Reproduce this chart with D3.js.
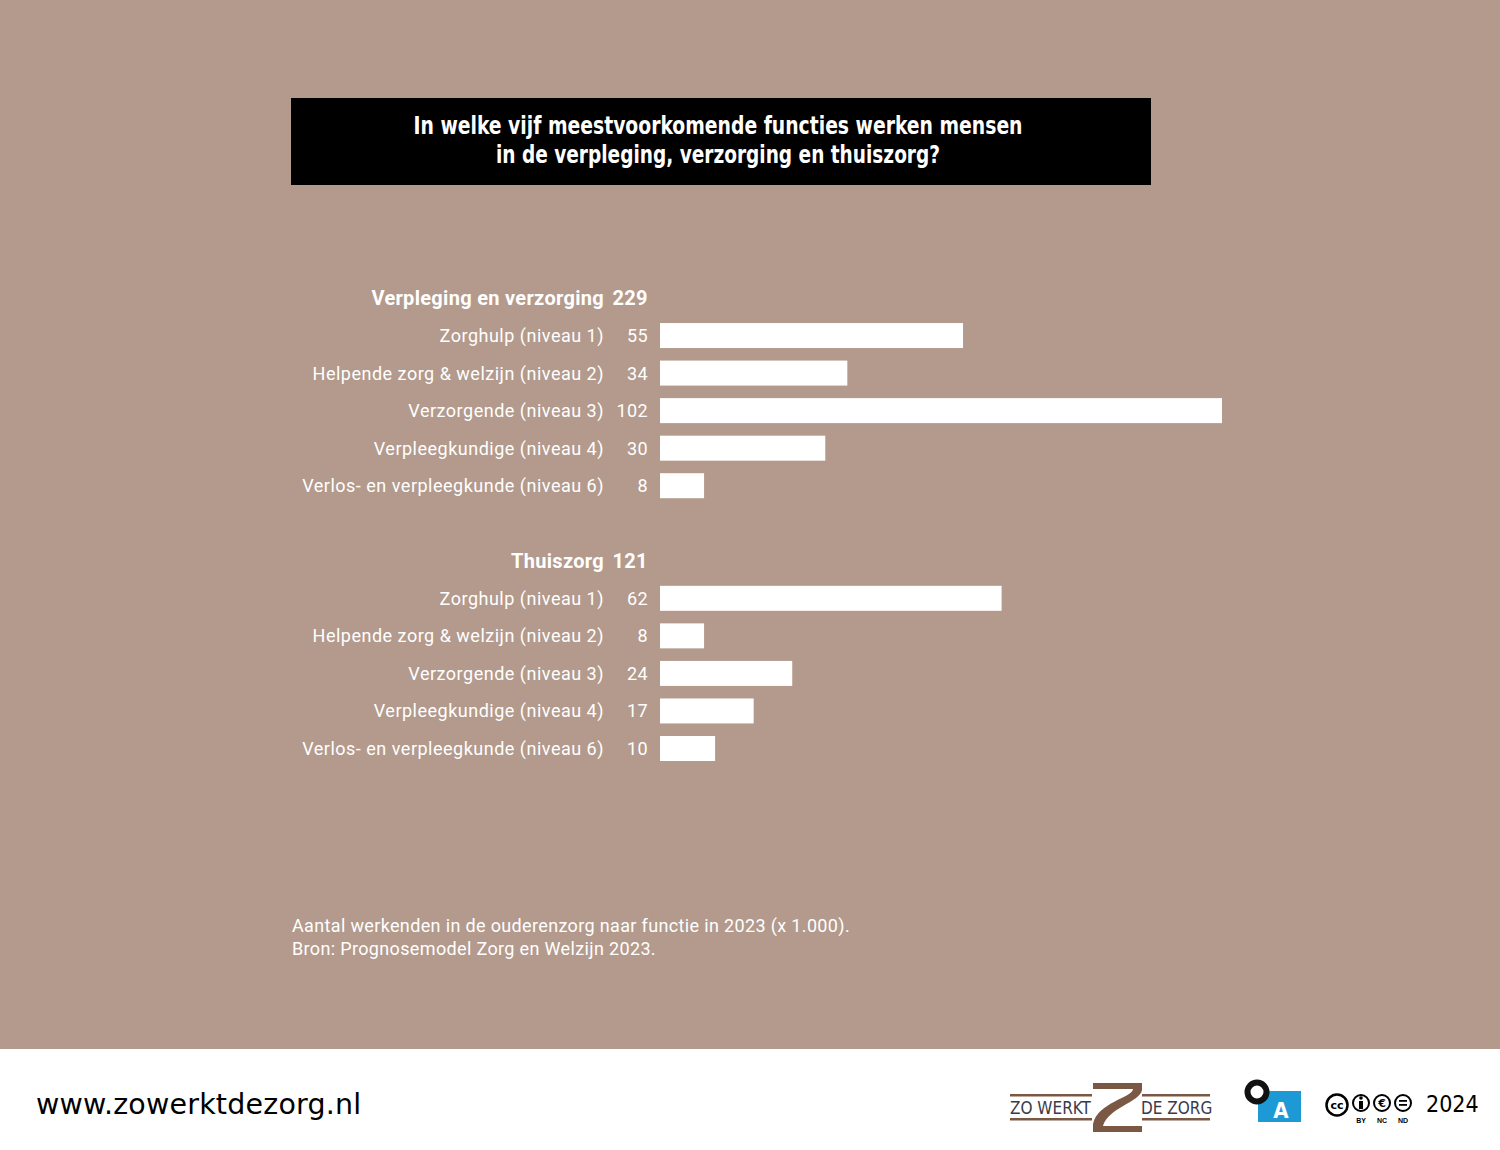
<!DOCTYPE html>
<meta charset="utf-8">
<body style="margin:0">
<script src="https://d3js.org/d3.v7.min.js"></script>
<script>
var groups = ["Verpleging en verzorging", "Thuiszorg"];
var groupTotals = [229, 121];
var functies = ["Zorghulp (niveau 1)", "Helpende zorg & welzijn (niveau 2)", "Verzorgende (niveau 3)",
                "Verpleegkundige (niveau 4)", "Verlos- en verpleegkunde (niveau 6)"];
var verplegingValues = [55, 34, 102, 30, 8];
var thuiszorgValues = [62, 8, 24, 17, 10];
var titleLines = ["In welke vijf meestvoorkomende functies werken mensen",
                  "in de verpleging, verzorging en thuiszorg?"];
var noteLines = ["Aantal werkenden in de ouderenzorg naar functie in 2023 (x 1.000).",
                 "Bron: Prognosemodel Zorg en Welzijn 2023."];

var width = 1500,
    height = 1150;

var svg = d3.select("body").append("svg")
    .attr("width", width)
    .attr("height", height)
    .style("display", "block");

svg.append("rect").attr("width", width).attr("height", 1049).attr("fill", "#b39a8c");
svg.append("rect").attr("y", 1049).attr("width", width).attr("height", height - 1049).attr("fill", "#ffffff");

// title box
svg.append("rect").attr("x", 291).attr("y", 98).attr("width", 860).attr("height", 87).attr("fill", "#000");
var titleWidths = [609, 444];
svg.selectAll(".title").data(titleLines).enter().append("text")
    .attr("x", 718)
    .attr("y", function(d, i) { return 134 + i * 29; })
    .attr("text-anchor", "middle")
    .attr("fill", "#fff")
    .style("font", "bold 25px 'Liberation Sans Narrow', 'DejaVu Sans Condensed', Roboto, sans-serif")
    .text(function(d) { return d; })
    .each(function(d, i) {
        if (this.getComputedTextLength() > titleWidths[i])
            d3.select(this).attr("textLength", titleWidths[i]).attr("lengthAdjust", "spacingAndGlyphs");
    });

// rows: header, 5 items, gap, header, 5 items
var rows = [];
[verplegingValues, thuiszorgValues].forEach(function(vals, g) {
    rows.push({key: "h" + g, type: "header", label: groups[g], value: groupTotals[g]});
    vals.forEach(function(v, i) {
        rows.push({key: g + "-" + i, type: "item", label: functies[i], value: v});
    });
    if (g == 0) rows.push({key: "gap", type: "gap"});
});

var y = d3.scalePoint()
    .domain(rows.map(function(d) { return d.key; }))
    .range([298, 748.5]);

var x = d3.scaleLinear()
    .domain([0, 102])
    .range([660, 1222]);

var labelFont = "18px Roboto, 'Noto Sans', sans-serif";
var labelBold = "bold 20px Roboto, 'Noto Sans', sans-serif";

var data = rows.filter(function(d) { return d.type != "gap"; });

var row = svg.selectAll(".row").data(data).enter().append("g")
    .attr("transform", function(d) { return "translate(0," + y(d.key) + ")"; });

row.append("text")
    .attr("x", 604)
    .attr("dy", "0.36em")
    .attr("text-anchor", "end")
    .attr("fill", "#fff")
    .style("font", function(d) { return d.type == "header" ? labelBold : labelFont; })
    .style("letter-spacing", function(d) { return d.type == "header" ? "0.3px" : "0.5px"; })
    .text(function(d) { return d.label; });

row.append("text")
    .attr("x", 648)
    .attr("dy", "0.36em")
    .attr("text-anchor", "end")
    .attr("fill", "#fff")
    .style("font", function(d) { return d.type == "header" ? labelBold : labelFont; })
    .style("letter-spacing", "0.4px")
    .text(function(d) { return d.value; });

row.filter(function(d) { return d.type == "item"; }).append("rect")
    .attr("x", x(0))
    .attr("y", -12.5)
    .attr("height", 25)
    .attr("width", function(d) { return x(d.value) - x(0); })
    .attr("fill", "#fff");

// footnote
svg.selectAll(".note").data(noteLines).enter().append("text")
    .attr("x", 292)
    .attr("y", function(d, i) { return 932 + i * 23; })
    .attr("fill", "#fff")
    .style("font", "18px Roboto, 'Noto Sans', sans-serif")
    .style("letter-spacing", "0.35px")
    .text(function(d) { return d; });

// footer
svg.append("text")
    .attr("x", 36)
    .attr("y", 1114)
    .attr("fill", "#000")
    .style("font", "28.5px 'DejaVu Sans', sans-serif")
    .style("letter-spacing", "0.2px")
    .text("www.zowerktdezorg.nl");

var brown = "#7b5844";
var logo = svg.append("g");
logo.append("rect").attr("x", 1010).attr("y", 1094).attr("width", 82).attr("height", 2.5).attr("fill", brown);
logo.append("rect").attr("x", 1010).attr("y", 1118).attr("width", 82).attr("height", 2.5).attr("fill", brown);
logo.append("rect").attr("x", 1142).attr("y", 1094).attr("width", 68).attr("height", 2.5).attr("fill", brown);
logo.append("rect").attr("x", 1142).attr("y", 1118).attr("width", 68).attr("height", 2.5).attr("fill", brown);
logo.append("path")
    .attr("d", "M1093,1083H1142V1090C1140,1102 1108,1108 1103,1126H1142V1132H1093V1124C1098,1102 1132,1098 1133,1089H1093Z")
    .attr("fill", brown);
logo.append("text").attr("x", 1010).attr("y", 1114).attr("fill", "#3a3a4a")
    .style("font", "17px 'DejaVu Sans Condensed', sans-serif").text("ZO WERKT");
logo.append("text").attr("x", 1141).attr("y", 1114).attr("fill", "#3a3a4a")
    .style("font", "17px 'DejaVu Sans Condensed', sans-serif").text("DE ZORG");

var oa = svg.append("g");
oa.append("rect").attr("x", 1258).attr("y", 1091).attr("width", 43).attr("height", 31).attr("fill", "#1d9ad6");
oa.append("circle").attr("cx", 1257).attr("cy", 1092).attr("r", 9.5).attr("fill", "#fff")
    .attr("stroke", "#111").attr("stroke-width", 6);
oa.append("text").attr("x", 1281).attr("y", 1118).attr("text-anchor", "middle").attr("fill", "#fff")
    .style("font", "bold 22px 'DejaVu Sans Condensed', sans-serif").text("A");

var cc = svg.append("g");
cc.append("circle").attr("cx", 1337).attr("cy", 1105).attr("r", 10.5).attr("fill", "#fff").attr("stroke", "#000").attr("stroke-width", 2.5);
cc.append("text").attr("x", 1337).attr("y", 1109).attr("text-anchor", "middle")
    .style("font", "bold 11px 'DejaVu Sans', sans-serif").text("cc");
[1361, 1382, 1403].forEach(function(cx, i) {
    cc.append("circle").attr("cx", cx).attr("cy", 1103).attr("r", 8).attr("fill", "#fff").attr("stroke", "#000").attr("stroke-width", 2);
    cc.append("text").attr("x", cx).attr("y", 1123).attr("text-anchor", "middle")
        .style("font", "bold 7px 'Liberation Sans', sans-serif").text(["BY", "NC", "ND"][i]);
});
cc.append("circle").attr("cx", 1361).attr("cy", 1098).attr("r", 1.8).attr("fill", "#000");
cc.append("rect").attr("x", 1359).attr("y", 1101).attr("width", 4).attr("height", 8).attr("fill", "#000");
cc.append("text").attr("x", 1382).attr("y", 1107).attr("text-anchor", "middle")
    .style("font", "bold 11px 'DejaVu Sans', sans-serif").text("€");
cc.append("rect").attr("x", 1399).attr("y", 1100).attr("width", 8).attr("height", 1.8).attr("fill", "#000");
cc.append("rect").attr("x", 1399).attr("y", 1104).attr("width", 8).attr("height", 1.8).attr("fill", "#000");

svg.append("text").attr("x", 1426).attr("y", 1112).attr("fill", "#000")
    .style("font", "23px 'DejaVu Sans Condensed', sans-serif").text("2024");
</script>
